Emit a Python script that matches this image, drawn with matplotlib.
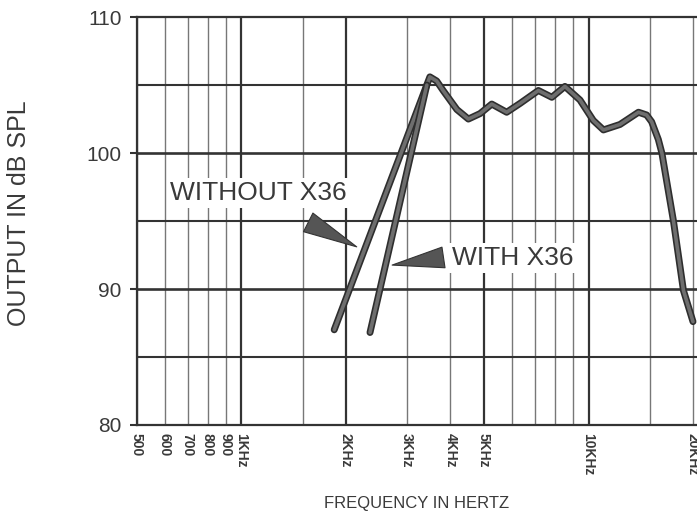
import matplotlib.pyplot as plt
import matplotlib.patheffects as pe

# response without the X36 (straight rise then the full curve)
freq_without = [1850, 3490, 3650, 3810, 4175, 4506, 4868, 5262, 5810, 6350, 7170, 7840,
                8550, 9450, 10320, 11040, 12320, 13930, 14700, 15200, 15890, 16270, 17570,
                18770, 20000]
db_without = [87.0, 105.6, 105.3, 104.6, 103.2, 102.5, 102.9, 103.6, 103.0, 103.65, 104.6,
              104.1, 104.9, 103.9, 102.4, 101.7, 102.1, 103.0, 102.8, 102.3, 101.0, 100.0,
              95.0, 89.9, 87.6]

# response with the X36 (steeper rise joining the curve at the peak)
freq_with = [2346, 3420]
db_with = [86.8, 105.0]

xtick_vals = [500, 600, 700, 800, 900, 1000, 2000, 3000, 4000, 5000, 10000, 20000]
xtick_labels = ['500', '600', '700', '800', '900', '1KHz', '2KHz', '3KHz', '4KHz',
                '5KHz', '10KHz', '20KHz']
grid_major_x = [1000, 2000, 5000, 10000]
grid_minor_x = [500, 600, 700, 800, 900, 1500, 3000, 4000, 6000, 7000, 8000, 9000,
                15000, 20000]
ytick_vals = [80, 90, 100, 110]
grid_y = [85, 90, 95, 100, 105]

plt.rcParams['font.family'] = ['Liberation Sans', 'DejaVu Sans']
txt = '#3a3a3a'

fig = plt.figure(figsize=(6.97, 5.17), dpi=100)
ax = fig.add_axes([0.1966, 0.178, 0.8034, 0.789])
ax.set_xscale('log')
ax.set_xlim(500, 20540)
ax.set_ylim(80, 110)

# grid lines drawn by hand (paper chart look)
for f in grid_minor_x:
    ax.axvline(f, color='#777777', lw=1.0, zorder=1)
for f in grid_major_x:
    ax.axvline(f, color='#333333', lw=1.6, zorder=1)
for d in grid_y:
    ax.axhline(d, color='#333333', lw=1.5 if d % 10 else 1.9, zorder=1)

stroke = [pe.Stroke(linewidth=5.0, foreground='#2e2e2e'), pe.Normal()]
ax.plot(freq_without, db_without, color='#6e6e6e', lw=2.6, zorder=4,
        solid_joinstyle='round', solid_capstyle='round', path_effects=stroke)
ax.plot(freq_with, db_with, color='#6e6e6e', lw=2.6, zorder=4,
        solid_capstyle='round', path_effects=stroke)

box = dict(facecolor='white', edgecolor='none', pad=2)
ax.text(624, 97.06, 'WITHOUT X36', fontsize=19, color=txt, ha='left', va='center',
        bbox=box, zorder=3)
ax.text(4045, 92.28, 'WITH X36', fontsize=19, color=txt, ha='left', va='center',
        bbox=box, zorder=3)

wedge = dict(arrowstyle='wedge,tail_width=1.0,shrink_factor=0.5', mutation_scale=15,
             fc='#555555', ec='#333333', lw=0.8, shrinkA=0, shrinkB=0)
ax.annotate('', xy=(2148, 93.1), xytext=(1557, 94.9), arrowprops=wedge, zorder=5)
ax.annotate('', xy=(2717, 91.76), xytext=(3820, 92.32), arrowprops=wedge, zorder=5)

ax.set_xticks(xtick_vals)
ax.set_xticklabels(xtick_labels, rotation=-90, fontsize=10, fontweight='bold', color=txt)
ax.xaxis.set_minor_locator(plt.NullLocator())
ax.tick_params(axis='x', length=0, pad=6)
ax.set_yticks(ytick_vals)
ax.set_yticklabels([str(v) for v in ytick_vals], fontsize=15, color=txt)
ax.tick_params(axis='y', length=5, width=1.5, color='#333333', pad=6)

for s in ['left', 'bottom', 'top']:
    ax.spines[s].set_color('#333333')
    ax.spines[s].set_linewidth(1.6)
ax.spines['right'].set_visible(False)

ax.set_ylabel('OUTPUT IN dB SPL', fontsize=18, color=txt)
ax.yaxis.set_label_coords(-0.189, 0.52)
ax.set_xlabel('FREQUENCY IN HERTZ', fontsize=12, color=txt)
ax.xaxis.set_label_coords(0.5, -0.175)

fig.savefig('out.png', dpi=100)
